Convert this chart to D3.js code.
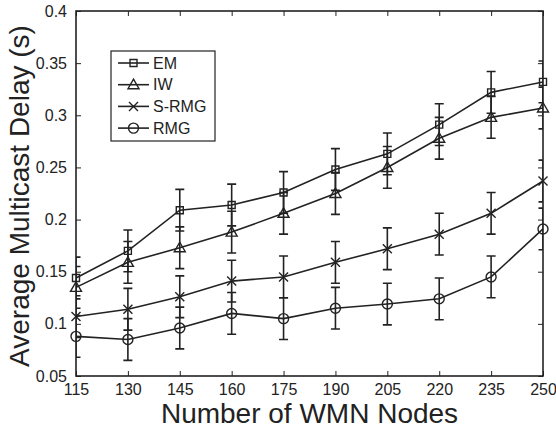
<!DOCTYPE html>
<html><head><meta charset="utf-8">
<script src="https://cdn.jsdelivr.net/npm/d3@7"></script>
<style>body{margin:0;background:#fff}text{font-family:"Liberation Sans",Arial,sans-serif;fill:#222}</style>
</head><body><svg id="c" width="556" height="428"></svg>
<script>
const nodes = [115,130,145,160,175,190,205,220,235,250];
const seriesNames = ["EM","IW","S-RMG","RMG"];
const emDelay   = [0.144,0.170,0.209,0.214,0.226,0.248,0.263,0.291,0.322,0.332];
const iwDelay   = [0.135,0.159,0.173,0.188,0.206,0.225,0.250,0.278,0.298,0.307];
const srmgDelay = [0.107,0.114,0.126,0.141,0.145,0.159,0.172,0.186,0.206,0.237];
const rmgDelay  = [0.088,0.085,0.096,0.110,0.105,0.115,0.119,0.124,0.145,0.191];
const emErr   = [0.02,0.02,0.02,0.02,0.02,0.02,0.02,0.02,0.02,0.02];
const iwErr   = [0.02,0.02,0.02,0.02,0.02,0.02,0.02,0.02,0.02,0.02];
const srmgErr = [0.02,0.02,0.02,0.02,0.02,0.02,0.02,0.02,0.02,0.02];
const rmgErr  = [0.02,0.02,0.02,0.02,0.02,0.02,0.02,0.02,0.02,0.02];
const yTicks = [0.05,0.1,0.15,0.2,0.25,0.3,0.35,0.4];
const yTickLabels = ["0.05","0.1","0.15","0.2","0.25","0.3","0.35","0.4"];
const xTitle = "Number of WMN Nodes";
const yTitle = "Average Multicast Delay (s)";

const series = [
  {name:seriesNames[0], v:emDelay, e:emErr, m:"square"},
  {name:seriesNames[1], v:iwDelay, e:iwErr, m:"triangle"},
  {name:seriesNames[2], v:srmgDelay, e:srmgErr, m:"x"},
  {name:seriesNames[3], v:rmgDelay, e:rmgErr, m:"circle"}
];

const L=76,R=543,T=11,B=376, ink="#222";
const svg=d3.select("#c");
const x=d3.scaleLinear().domain([115,250]).range([L,R]);
const y=d3.scaleLinear().domain([0.05,0.4]).range([B,T]);

svg.append("defs").append("clipPath").attr("id","clip")
  .append("rect").attr("x",L).attr("y",T).attr("width",R-L).attr("height",B-T);

// axes with inward ticks
const tl=5;
svg.append("g").attr("transform",`translate(0,${B})`)
  .call(d3.axisBottom(x).tickValues(nodes).tickSize(-tl).tickPadding(8).tickFormat(d3.format("d")))
  .call(g=>{g.select(".domain").remove();g.selectAll("line").attr("stroke",ink).attr("stroke-width",1);g.selectAll("text").attr("font-size",16).attr("fill",ink).attr("font-family","Liberation Sans, Arial, sans-serif");});
svg.append("g").attr("transform",`translate(0,${T})`)
  .call(d3.axisTop(x).tickValues(nodes).tickSize(-tl).tickFormat(""))
  .call(g=>{g.select(".domain").remove();g.selectAll("line").attr("stroke",ink).attr("stroke-width",1);});
svg.append("g").attr("transform",`translate(${L},0)`)
  .call(d3.axisLeft(y).tickValues(yTicks).tickSize(-tl).tickPadding(9).tickFormat((d,i)=>yTickLabels[i]))
  .call(g=>{g.select(".domain").remove();g.selectAll("line").attr("stroke",ink).attr("stroke-width",1);g.selectAll("text").attr("font-size",16).attr("fill",ink).attr("font-family","Liberation Sans, Arial, sans-serif");});
svg.append("g").attr("transform",`translate(${R},0)`)
  .call(d3.axisRight(y).tickValues(yTicks).tickSize(-tl).tickFormat(""))
  .call(g=>{g.select(".domain").remove();g.selectAll("line").attr("stroke",ink).attr("stroke-width",1);});
svg.append("rect").attr("x",L).attr("y",T).attr("width",R-L).attr("height",B-T)
  .attr("fill","none").attr("stroke",ink).attr("stroke-width",1.6);

// titles
svg.append("text").attr("x",(L+R)/2).attr("y",423).attr("text-anchor","middle")
  .attr("font-size",28).text(xTitle);
svg.append("text").attr("transform",`translate(29,196) rotate(-90)`).attr("text-anchor","middle")
  .attr("font-size",28).text(yTitle);

function marker(g,type,cx,cy){
  const s=g.append("path").attr("fill","none").attr("stroke",ink).attr("stroke-width",1.4);
  if(type==="square"){s.attr("d",`M${cx-3.5},${cy-3.5}h7v7h-7z`);}
  else if(type==="triangle"){s.attr("d",`M${cx},${cy-5.5}L${cx+5.5},${cy+4}L${cx-5.5},${cy+4}Z`);}
  else if(type==="x"){s.attr("d",`M${cx-4.5},${cy-4.5}L${cx+4.5},${cy+4.5}M${cx+4.5},${cy-4.5}L${cx-4.5},${cy+4.5}`);}
  else {s.attr("d",`M${cx+5},${cy}A5,5 0 1 1 ${cx-5},${cy}A5,5 0 1 1 ${cx+5},${cy}`);}
}

const line=d3.line().x((d,i)=>x(nodes[i])).y(d=>y(d));
const cw=4.5;
series.forEach(s=>{
  const g=svg.append("g");
  const eg=g.append("g").attr("clip-path","url(#clip)");
  s.v.forEach((v,i)=>{
    const cx=x(nodes[i]), y1=y(v+s.e[i]), y2=y(v-s.e[i]);
    eg.append("path").attr("fill","none").attr("stroke",ink).attr("stroke-width",1.6)
      .attr("d",`M${cx},${y1}V${y2}M${cx-cw},${y1}H${cx+cw}M${cx-cw},${y2}H${cx+cw}`);
  });
  g.append("path").datum(s.v).attr("d",line).attr("fill","none").attr("stroke",ink).attr("stroke-width",1.6);
  s.v.forEach((v,i)=>marker(g,s.m,x(nodes[i]),y(v)));
});

// legend
const lg=svg.append("g");
lg.append("rect").attr("x",111).attr("y",51).attr("width",104).attr("height",90)
  .attr("fill","#fff").attr("stroke",ink).attr("stroke-width",1.2);
series.forEach((s,i)=>{
  const yy=63+i*21.7;
  lg.append("line").attr("x1",118).attr("x2",149).attr("y1",yy).attr("y2",yy).attr("stroke",ink).attr("stroke-width",1.6);
  marker(lg,s.m,133.5,yy);
  lg.append("text").attr("x",153).attr("y",yy).attr("dy","0.35em").attr("font-size",16).text(s.name);
});
</script></body></html>
